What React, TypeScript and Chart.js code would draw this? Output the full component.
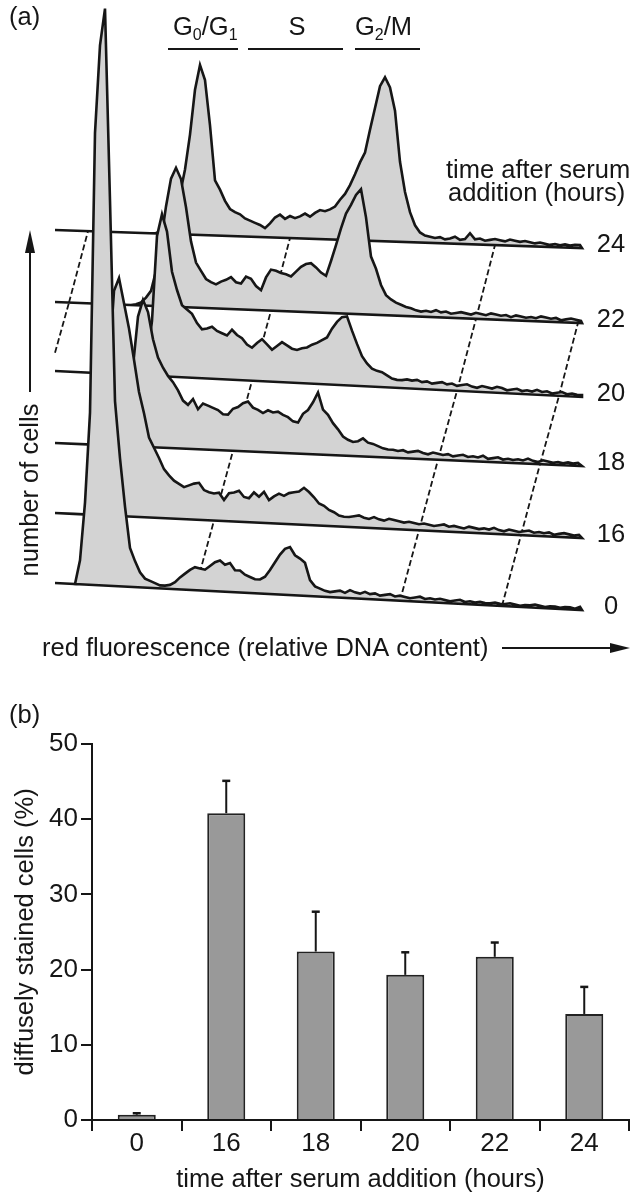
import React, { useEffect, useRef } from "react";
import { Chart, registerables } from "chart.js";

Chart.register(...registerables);

const FONT = "'Liberation Sans', Arial, Helvetica, sans-serif";
const INK = "#161616";

// ---------------- Panel (a): DNA histograms (height per channel, channel step 5) ----------------
const timeLabels = ["0", "16", "18", "20", "22", "24"];
const channelStep = 5;

const hist0h = [
  0, 0, 0, 0, 0, 24, 82, 172, 452, 540,
  577, 385, 185, 128, 80, 39, 26, 15, 9, 7,
  5, 3, 3, 4, 7, 12, 16, 20, 23, 22,
  21, 25, 29, 31, 27, 29, 22, 22, 18, 16,
  14, 14, 17, 24, 32, 40, 46, 48, 40, 37,
  33, 16, 10, 8, 6, 5, 6, 7, 5, 8,
  6, 5, 7, 5, 6, 4, 5, 6, 4, 5,
  4, 3, 4, 5, 3, 4, 3, 4, 3, 2,
  3, 4, 2, 3, 2, 3, 2, 2, 3, 2,
  2, 3, 2, 1, 2, 2, 3, 2, 1, 2,
  2, 1, 2, 2, 1, 3,
];
const hist16h = [
  0, 0, 0, 2, 8, 25, 70, 150, 225, 238,
  213, 188, 157, 125, 104, 80, 70, 60, 49, 43,
  38, 35, 32, 34, 36, 37, 30, 28, 27, 28,
  21, 28, 29, 31, 25, 24, 30, 26, 31, 23,
  27, 30, 28, 31, 32, 33, 37, 33, 28, 22,
  20, 16, 14, 11, 10, 10, 11, 12, 10, 9,
  11, 9, 8, 10, 9, 8, 7, 8, 7, 6,
  7, 6, 5, 6, 7, 5, 6, 5, 4, 6,
  5, 4, 5, 4, 6, 4, 3, 5, 4, 3,
  4, 5, 3, 4, 3, 4, 2, 3, 4, 3,
  2, 3,
];
const hist18h = [
  0, 0, 0, 0, 2, 5, 12, 35, 80, 130,
  147, 135, 108, 90, 80, 72, 66, 58, 48, 44,
  50, 40, 46, 44, 42, 40, 36, 36, 42, 44,
  48, 50, 44, 42, 39, 42, 40, 41, 38, 36,
  32, 31, 40, 44, 52, 62, 45, 40, 32, 26,
  19, 16, 14, 15, 18, 14, 13, 11, 9, 8,
  8, 7, 8, 6, 7, 8, 6, 5, 7, 6,
  5, 6, 4, 5, 6, 4, 5, 4, 6, 3,
  4, 5, 3, 4, 3, 4, 3, 5, 3, 2,
  4, 3, 2, 3, 2, 3, 2, 3,
];
const hist20h = [
  0, 0, 0, 0, 0, 2, 5, 15, 55, 140,
  162, 145, 105, 87, 72, 68, 64, 55, 49, 50,
  52, 48, 46, 44, 50, 45, 42, 36, 33, 38,
  42, 37, 32, 36, 40, 37, 34, 33, 35, 36,
  39, 41, 44, 47, 56, 63, 68, 69, 55, 42,
  30, 23, 18, 16, 15, 12, 9, 8, 8, 9,
  8, 9, 7, 8, 6, 7, 8, 6, 7, 5,
  6, 7, 5, 4, 6, 5, 4, 6, 5, 3,
  4, 5, 3, 4, 3, 5, 3, 4, 2, 3,
  4, 2, 3, 2, 2,
];
const hist22h = [
  0, 1, 3, 8, 15, 35, 65, 100, 128, 139,
  128, 100, 66, 45, 37, 29, 26, 24, 27, 29,
  32, 27, 26, 33, 31, 24, 20, 33, 41, 40,
  38, 37, 35, 40, 45, 48, 49, 45, 40, 37,
  52, 68, 85, 100, 109, 119, 125, 97, 58, 46,
  30, 20, 16, 13, 11, 9, 8, 6, 5, 6,
  5, 7, 5, 6, 4, 5, 6, 5, 4, 6,
  5, 4, 6, 5, 4, 5, 3, 5, 4, 3,
  4, 3, 5, 4, 3, 4, 2, 3, 4, 3,
  2,
];
const hist24h = [
  0, 0, 2, 5, 12, 25, 40, 65, 100, 145,
  170, 155, 110, 55, 46, 35, 27, 24, 22, 18,
  16, 14, 12, 9, 14, 20, 23, 19, 22, 20,
  22, 25, 22, 26, 29, 28, 30, 33, 40, 46,
  55, 66, 78, 88, 111, 133, 155, 164, 154, 131,
  80, 50, 30, 17, 10, 7, 6, 5, 6, 4,
  5, 7, 4, 5, 11, 5, 6, 4, 5, 6,
  5, 4, 6, 5, 4, 5, 4, 3, 4, 3,
  2, 3, 2, 3, 2, 3, 3,
];
const histograms = [hist0h, hist16h, hist18h, hist20h, hist22h, hist24h];
// gate marker positions (channel)
const gateChannels = [-62, 140, 345, 447];

// ---------------- Panel (b) data ----------------
const barCategories = ["0", "16", "18", "20", "22", "24"];
const barMeans = [0.7, 40.8, 22.4, 19.3, 21.7, 14.1];
const barErrors = [0.2, 4.3, 5.3, 3.0, 1.9, 3.6];
const yTickValues = [0, 10, 20, 30, 40, 50];

// ---------------- layout (pixel geometry of the pseudo-3D plot) ----------------
const WF = {
  left: 55,
  right: 582,
  shift: 19,
  leftY: [583, 513, 443, 371, 302, 230],
  rightY: [610, 538, 466, 397, 323, 248],
};

function baseY(k: number, X: number) {
  return WF.leftY[k] + ((WF.rightY[k] - WF.leftY[k]) * (X - WF.left)) / (WF.right - WF.left);
}

function levelPolygon(k: number) {
  const pts: { x: number; y: number }[] = [{ x: WF.left, y: baseY(k, WF.left) }];
  histograms[k].forEach((h, i) => {
    const X = WF.left + WF.shift * k + i * channelStep;
    if (X <= WF.right) pts.push({ x: X, y: baseY(k, X) - h });
  });
  pts.push({ x: WF.right, y: baseY(k, WF.right) });
  pts.push({ x: WF.left, y: baseY(k, WF.left) });
  return pts;
}

function gateSegment(g: number, k: number) {
  const X1 = WF.left + WF.shift * k + g;
  const X2 = X1 + WF.shift;
  let p1 = { x: X1, y: baseY(k, X1) };
  const p2 = { x: X2, y: baseY(k + 1, X2) };
  if (p2.x < WF.left || p2.x > WF.right) return null;
  if (p1.x < WF.left) {
    const t = (WF.left - p1.x) / (p2.x - p1.x);
    p1 = { x: p1.x + (p2.x - p1.x) * t, y: p1.y + (p2.y - p1.y) * t };
  }
  return [p1, p2];
}

function drawParts(ctx: CanvasRenderingContext2D, parts: [string, boolean][], x: number, y: number) {
  let cx = x;
  for (const [t, sub] of parts) {
    ctx.font = sub ? `16px ${FONT}` : `25.5px ${FONT}`;
    ctx.fillText(t, cx, sub ? y + 5 : y);
    cx += ctx.measureText(t).width;
  }
}

const panelATextPlugin = {
  id: "panelAText",
  afterDraw(chart: any) {
    const ctx: CanvasRenderingContext2D = chart.ctx;
    const xs = chart.scales.x;
    const ys = chart.scales.y;
    const px = (v: number) => xs.getPixelForValue(v);
    const py = (v: number) => ys.getPixelForValue(v);
    ctx.save();
    ctx.fillStyle = INK;
    ctx.strokeStyle = INK;
    ctx.textBaseline = "alphabetic";
    ctx.textAlign = "left";
    ctx.font = `25.5px ${FONT}`;
    ctx.fillText("(a)", px(9), py(25));

    // phase labels
    drawParts(ctx, [["G", false], ["0", true], ["/", false], ["G", false], ["1", true]], px(173), py(35));
    ctx.font = `25.5px ${FONT}`;
    ctx.textAlign = "center";
    ctx.fillText("S", px(297), py(35));
    ctx.textAlign = "left";
    drawParts(ctx, [["G", false], ["2", true], ["/", false], ["M", false]], px(355), py(35));
    ctx.lineWidth = 2;
    [[168, 238], [248, 343], [355, 420]].forEach(([a, b]) => {
      ctx.beginPath();
      ctx.moveTo(px(a), py(49));
      ctx.lineTo(px(b), py(49));
      ctx.stroke();
    });

    // legend for levels
    ctx.font = `25.5px ${FONT}`;
    ctx.fillText("time after serum", px(446), py(178));
    ctx.fillText("addition (hours)", px(448), py(201));
    ctx.textAlign = "center";
    ctx.textBaseline = "middle";
    timeLabels.forEach((t, k) => {
      ctx.fillText(t, px(611), py(WF.rightY[k] - 3));
    });

    // x axis label + arrow
    ctx.textAlign = "left";
    ctx.textBaseline = "alphabetic";
    ctx.fillText("red fluorescence (relative DNA content)", px(42), py(656));
    ctx.lineWidth = 2;
    ctx.beginPath();
    ctx.moveTo(px(502), py(648));
    ctx.lineTo(px(612), py(648));
    ctx.stroke();
    ctx.beginPath();
    ctx.moveTo(px(630), py(648));
    ctx.lineTo(px(610), py(643));
    ctx.lineTo(px(610), py(653));
    ctx.closePath();
    ctx.fill();

    // y axis label + arrow
    ctx.save();
    ctx.translate(px(38), py(490));
    ctx.rotate(-Math.PI / 2);
    ctx.textAlign = "center";
    ctx.fillText("number of cells", 0, 0);
    ctx.restore();
    ctx.beginPath();
    ctx.moveTo(px(30), py(392));
    ctx.lineTo(px(30), py(250));
    ctx.stroke();
    ctx.beginPath();
    ctx.moveTo(px(30), py(230));
    ctx.lineTo(px(25), py(253));
    ctx.lineTo(px(35), py(253));
    ctx.closePath();
    ctx.fill();
    ctx.restore();
  },
};

function buildWaterfall(): any {
  const datasets: any[] = [];
  for (let k = histograms.length - 1; k >= 0; k--) {
    datasets.push({
      data: levelPolygon(k),
      showLine: true,
      pointRadius: 0,
      borderColor: INK,
      borderWidth: 2.6,
      borderJoinStyle: "miter",
      backgroundColor: "#d3d3d3",
      fill: "shape",
      tension: 0,
      order: 10 * k,
    });
    if (k > 0) {
      gateChannels.forEach((g) => {
        const seg = gateSegment(g, k - 1);
        if (!seg) return;
        datasets.push({
          data: seg,
          showLine: true,
          pointRadius: 0,
          borderColor: INK,
          borderWidth: 1.8,
          borderDash: [6, 3],
          fill: false,
          order: 10 * (k - 1) + 5,
        });
      });
    }
  }
  return {
    type: "scatter",
    data: { datasets },
    options: {
      responsive: false,
      animation: false,
      devicePixelRatio: 1,
      events: [],
      layout: { padding: 0 },
      plugins: { legend: { display: false }, tooltip: { enabled: false } },
      scales: {
        x: { type: "linear", min: 0, max: 633, display: false },
        y: { type: "linear", min: 0, max: 680, reverse: true, display: false },
      },
    },
    plugins: [panelATextPlugin],
  };
}

const errorBarPlugin = {
  id: "errorBars",
  afterDatasetsDraw(chart: any) {
    const meta = chart.getDatasetMeta(0);
    const ys = chart.scales.y;
    const ctx: CanvasRenderingContext2D = chart.ctx;
    ctx.save();
    ctx.strokeStyle = INK;
    meta.data.forEach((bar: any, i: number) => {
      const x = bar.x;
      const yTop = ys.getPixelForValue(barMeans[i]);
      const yErr = ys.getPixelForValue(barMeans[i] + barErrors[i]);
      ctx.lineWidth = 2;
      ctx.beginPath();
      ctx.moveTo(x, yTop);
      ctx.lineTo(x, yErr);
      ctx.stroke();
      ctx.lineWidth = 2.5;
      ctx.beginPath();
      ctx.moveTo(x - 4, yErr);
      ctx.lineTo(x + 4, yErr);
      ctx.stroke();
    });
    ctx.restore();
  },
  afterDraw(chart: any) {
    const ctx: CanvasRenderingContext2D = chart.ctx;
    ctx.save();
    ctx.fillStyle = INK;
    ctx.font = `25.5px ${FONT}`;
    ctx.textBaseline = "alphabetic";
    ctx.fillText("(b)", 9, 43);
    ctx.restore();
  },
};

function buildBars(): any {
  const tickFont = { family: FONT, size: 26, lineHeight: 1 };
  const titleFont = { family: FONT, size: 25.5 };
  return {
    type: "bar",
    data: {
      labels: barCategories,
      datasets: [
        {
          data: barMeans,
          backgroundColor: "#999999",
          borderColor: "#222222",
          borderWidth: 2,
          borderSkipped: "start",
          barPercentage: 0.85,
          categoryPercentage: 0.5,
        },
      ],
    },
    options: {
      responsive: false,
      animation: false,
      devicePixelRatio: 1,
      events: [],
      layout: { padding: { top: 64, right: 4, left: 0, bottom: 0 } },
      plugins: { legend: { display: false }, tooltip: { enabled: false } },
      scales: {
        x: {
          grid: { display: true, drawOnChartArea: false, drawTicks: true, tickLength: 11, color: INK, lineWidth: 2, offset: true },
          border: { display: true, color: INK, width: 2 },
          ticks: { color: INK, font: tickFont, padding: 0 },
          title: { display: true, text: "time after serum addition (hours)", color: INK, font: titleFont, padding: { top: 0, bottom: 1 } },
          afterFit: (s: any) => {
            s.height = 76;
          },
        },
        y: {
          min: 0,
          max: 50,
          afterBuildTicks: (s: any) => {
            s.ticks = yTickValues.map((v) => ({ value: v }));
          },
          grid: { display: true, drawOnChartArea: false, drawTicks: true, tickLength: 11, color: INK, lineWidth: 2 },
          border: { display: true, color: INK, width: 2 },
          ticks: { color: INK, font: tickFont, padding: 3 },
          title: { display: true, text: "diffusely stained cells (%)", color: INK, font: titleFont, padding: { top: 11, bottom: 0 } },
          afterFit: (s: any) => {
            s.width = 92;
          },
        },
      },
    },
    plugins: [errorBarPlugin],
  };
}

export default function App() {
  const refA = useRef<HTMLCanvasElement>(null);
  const refB = useRef<HTMLCanvasElement>(null);
  useEffect(() => {
    const a = new Chart(refA.current as HTMLCanvasElement, buildWaterfall());
    const b = new Chart(refB.current as HTMLCanvasElement, buildBars());
    return () => {
      a.destroy();
      b.destroy();
    };
  }, []);
  return (
    <div style={{ position: "absolute", left: 0, top: 0, width: 633, height: 1196, background: "#fff", overflow: "hidden" }}>
      <canvas ref={refA} width={633} height={680} style={{ position: "absolute", left: 0, top: 0 }} />
      <canvas ref={refB} width={633} height={516} style={{ position: "absolute", left: 0, top: 680 }} />
    </div>
  );
}
